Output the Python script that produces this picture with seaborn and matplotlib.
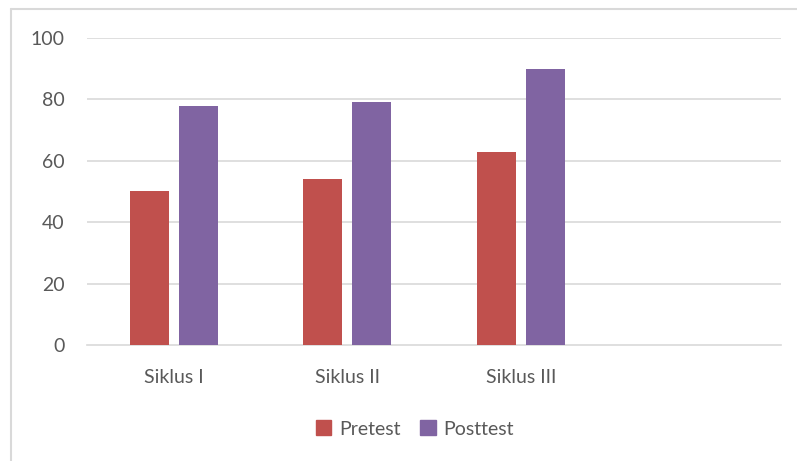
import numpy as np
import pandas as pd
import matplotlib.pyplot as plt
from matplotlib.lines import Line2D
import seaborn as sns

# data
categories = ['Siklus I', 'Siklus II', 'Siklus III', '']
pretest = [50, 54, 63, np.nan]
posttest = [78, 79, 90, np.nan]
series = ['Pretest', 'Posttest']
colors = ['#C0504D', '#8064A2']
yticks = [0, 20, 40, 60, 80, 100]

sns.set_style('white')
plt.rcParams['font.family'] = ['Lato', 'DejaVu Sans']
txt = '#595959'
grid_c = '#D9D9D9'
fs = 14

df = pd.DataFrame({'cat': categories * 2,
                   'val': pretest + posttest,
                   'grp': [series[0]] * 4 + [series[1]] * 4})

W, H = 797, 461
fig = plt.figure(figsize=(W / 100, H / 100), dpi=100)
ax = fig.add_axes([87 / W, 1 - 345 / H, (781 - 87) / W, (345 - 38) / H])

sns.barplot(data=df, x='cat', y='val', hue='grp', order=categories,
            hue_order=series, palette=colors, width=0.565, gap=0.2,
            ax=ax, legend=False, saturation=1, zorder=3, linewidth=0)

ax.set_ylim(0, 100)
ax.set_xlim(-0.5, 3.5)
ax.set_yticks(yticks)
for y in yticks[1:]:
    ax.axhline(y, color=grid_c, lw=1.2, zorder=1)
ax.set_xlabel('')
ax.set_ylabel('')
for s in ['top', 'right', 'left']:
    ax.spines[s].set_visible(False)
ax.spines['bottom'].set_color(grid_c)
ax.spines['bottom'].set_linewidth(1.2)
ax.tick_params(axis='y', length=0, pad=16, labelsize=fs, labelcolor=txt)
ax.tick_params(axis='x', length=0, pad=17, labelsize=fs, labelcolor=txt)

# legend
handles = [plt.Rectangle((0, 0), 1, 1, color=c) for c in colors]
fig.legend(handles, series, loc='center', bbox_to_anchor=(415 / W, 1 - 429 / H),
           ncol=2, frameon=False, fontsize=fs, labelcolor=txt,
           handlelength=0.8, handleheight=0.8, handletextpad=0.4,
           columnspacing=1.0)

# chart border (left and top visible)
fig.add_artist(Line2D([11 / W, 11 / W], [0, 1 - 9 / H], color=grid_c, lw=1.5,
                      transform=fig.transFigure))
fig.add_artist(Line2D([11 / W, 1], [1 - 9 / H, 1 - 9 / H], color=grid_c, lw=1.5,
                      transform=fig.transFigure))

fig.savefig('out.png', dpi=100)
